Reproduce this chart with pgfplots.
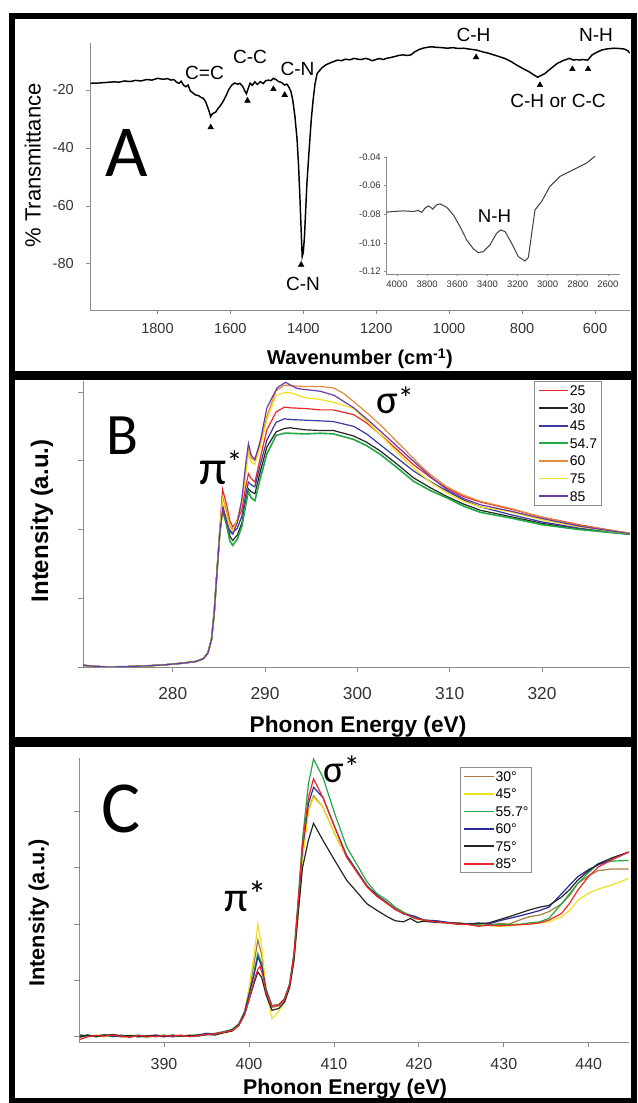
\documentclass[border=0pt]{standalone}
\usepackage{fontspec}
\setmainfont{Liberation Sans}
\newfontfamily\calfont{Carlito}
\usepackage{pgfplots}
\pgfplotsset{compat=1.18}
\newcommand\fs[1]{\fontsize{#1pt}{#1pt}\selectfont}
\definecolor{axgray}{HTML}{8C8C8C}
\definecolor{tkgray}{HTML}{333333}
\definecolor{cRed}{HTML}{EE2828}
\definecolor{cBlack}{HTML}{262626}
\definecolor{cBlue}{HTML}{3A3AA0}
\definecolor{cGreen}{HTML}{22A844}
\definecolor{cOrange}{HTML}{E38A3C}
\definecolor{cYellow}{HTML}{F2E21E}
\definecolor{cPurple}{HTML}{6A3AA8}
\definecolor{cBrown}{HTML}{A87A40}
\definecolor{cNavy}{HTML}{2A2A9A}
\pgfplotsset{
  base/.style={
    scale only axis,
    axis x line=bottom, axis y line=left,
    axis line style={-, draw=axgray, line width=0.7pt},
    every outer x axis line/.append style={-},
    every outer y axis line/.append style={-},
    tick style={draw=axgray, line width=0.6pt},
    tick align=outside,
    major tick length=3pt,
    ticklabel style={text=tkgray, inner sep=0pt},
    /pgf/number format/assume math mode=true,
    /pgf/number format/1000 sep={},
  }
}
\begin{document}
\begin{tikzpicture}
\useasboundingbox (0,0) rectangle (478.5pt,827.25pt);
\fill[white] (0,0) rectangle (478.5pt,827.25pt);

% ---------------- Panel A ----------------
\begin{axis}[base,
  at={(67.5pt,594.75pt)}, anchor=south west,
  width=405pt, height=200.25pt,
  x dir=reverse, xmin=504, xmax=1985, ymin=-95.9, ymax=-3.8,
  xtick={600,800,...,1800}, ytick={-80,-60,-40,-20},
  ticklabel style={font=\fs{10.9}},
  xticklabel style={anchor=center, yshift=-11pt},
  yticklabel style={anchor=east, xshift=-9pt},
]
\addplot[black, line width=1.1pt] coordinates {
(1984,-17.7)(1960,-17.6)(1940,-17.4)(1920,-17.2)(1905,-17.3)(1890,-16.9)(1875,-17.1)
(1860,-16.7)(1845,-16.9)(1830,-16.4)(1815,-16.6)(1800,-16.0)(1785,-16.3)(1772,-16.1)
(1763,-16.6)(1755,-16.4)(1748,-17.3)(1741,-17.7)(1735,-17.0)(1728,-18.4)(1722,-18.9)
(1716,-18.3)(1710,-20.3)(1704,-20.9)(1696,-21.7)(1688,-21.9)(1680,-22.6)(1674,-22.9)
(1668,-24.0)(1663,-25.7)(1658,-27.5)(1654,-29.2)(1650,-28.3)(1646,-28.0)(1640,-27.6)
(1634,-26.4)(1629,-25.7)(1621,-24.2)(1613,-22.3)(1605,-20.0)(1596,-18.3)(1588,-17.6)
(1580,-18.0)(1574,-17.7)(1566,-18.8)(1560,-20.4)(1556,-21.3)(1552,-19.8)(1546,-17.7)
(1540,-18.4)(1533,-17.2)(1526,-18.1)(1518,-17.1)(1510,-17.8)(1503,-16.8)(1496,-16.6)
(1489,-16.8)(1482,-16.0)(1475,-16.4)(1468,-17.1)(1460,-17.4)(1451,-18.3)(1445,-18.0)
(1440,-18.9)(1434,-20.5)(1429,-23.4)(1423,-29.0)(1417,-37.2)(1413,-46.0)(1409,-57.9)
(1406,-68.0)(1403,-77.5)(1400,-76.0)(1397,-71.0)(1394,-63.0)(1390,-52.0)(1384,-40.7)
(1378,-30.0)(1373,-23.4)(1368,-18.0)(1362,-14.3)(1350,-12.5)(1339,-11.4)(1325,-10.6)
(1315,-10.1)(1306,-9.7)(1295,-9.9)(1285,-9.4)(1272,-9.6)(1261,-9.1)(1250,-9.4)(1240,-9.5)
(1230,-9.1)(1220,-9.4)(1212,-9.9)(1205,-9.7)(1196,-9.3)(1190,-9.2)(1180,-9.5)
(1172,-9.1)(1160,-8.8)(1150,-8.5)(1138,-8.1)(1127,-7.9)(1115,-8.1)(1105,-7.9)
(1094,-6.8)(1083,-6.1)(1072,-5.6)(1060,-5.3)(1049,-5.1)(1035,-5.3)(1020,-5.4)
(1005,-5.6)(990,-5.4)(975,-5.7)(960,-5.6)(945,-5.9)(926,-6.2)(910,-6.8)(893,-7.3)
(870,-8.2)(848,-9.1)(830,-10.2)(815,-11.4)(798,-12.6)(781,-13.7)(768,-14.8)(757,-15.6)
(748,-15.0)(737,-14.3)(720,-12.5)(703,-10.8)(686,-9.8)(670,-9.1)(665,-9.4)(659,-9.7)
(650,-9.5)(642,-9.7)(636,-9.5)(628,-9.6)(620,-9.7)(614,-8.8)(608,-7.9)(595,-7.0)
(581,-6.2)(565,-5.8)(547,-5.6)(533,-5.7)(519,-5.9)(510,-6.5)(504,-7.3)};
\addplot[only marks, mark=triangle*, mark size=2.4pt, black] coordinates {
(1654,-32.9)(1553,-23.7)(1482,-19.7)(1451,-21.7)(1406,-80.3)(926,-8.7)(751,-18.3)(662,-12.8)(619,-12.8)};
\end{axis}

% inset
\begin{axis}[base,
  at={(289.5pt,621.75pt)}, anchor=south west,
  width=175.5pt, height=87.75pt,
  x dir=reverse, xmin=2520, xmax=4073, ymin=-0.1216, ymax=-0.04,
  xtick={2600,2800,...,4000}, ytick={-0.12,-0.1,-0.08,-0.06,-0.04},
  major tick length=1.5pt,
  ticklabel style={font=\fs{7.1}},
  xticklabel style={anchor=center, yshift=-6pt},
  yticklabel style={anchor=east, xshift=-2.25pt, /pgf/number format/.cd, fixed, fixed zerofill, precision=2},
]
\addplot[black!75, line width=0.75pt] coordinates {
(4073,-0.0785)(4024,-0.0780)(3958,-0.0776)(3892,-0.0780)(3858,-0.0773)(3836,-0.0787)
(3814,-0.0757)(3792,-0.0741)(3777,-0.0750)(3763,-0.0764)(3741,-0.0736)(3715,-0.0727)
(3670,-0.0750)(3626,-0.0804)(3582,-0.0885)(3538,-0.0978)(3493,-0.1041)(3460,-0.1067)
(3427,-0.1060)(3383,-0.1013)(3339,-0.0932)(3312,-0.0909)(3283,-0.0920)(3239,-0.1002)
(3195,-0.1095)(3151,-0.1125)(3128,-0.1100)(3106,-0.0932)(3084,-0.0769)(3040,-0.0710)
(2985,-0.0605)(2918,-0.0535)(2830,-0.0489)(2741,-0.0442)(2686,-0.0395)};
\end{axis}

% ---------------- Panel B ----------------
\begin{axis}[base,
  at={(62.25pt,327pt)}, anchor=south west,
  width=410.25pt, height=214.5pt,
  xmin=270.28, xmax=329.53, ymin=0, ymax=4.16,
  xtick={280,290,...,320}, ytick={0,1,2,3,4}, yticklabels={,,,,},
  major tick length=3.75pt,
  ticklabel style={font=\fs{13}},
  xticklabel style={anchor=center, yshift=-16.5pt},
  legend style={at={(rel axis cs:0.8245,1)}, anchor=north west, draw=axgray, line width=0.6pt,
    fill=white, font=\fs{10.5}, inner xsep=3pt, inner ysep=2.5pt, row sep=4.6pt,
    nodes={inner sep=0.5pt, text height=7.6pt, text depth=0pt}},
  legend cell align=left,
  legend image code/.code={\draw[#1, line width=1.3pt] (0pt,0pt) -- (21.75pt,0pt);},
]
\addplot[cRed, line width=0.9pt] coordinates {
(270.3,0.025)(271.5,0.01)(273,0.0)(275,0.005)(277,0.015)(279,0.03)(281,0.055)(282.5,0.08)(283.3,0.12)(283.8,0.2)(284.2,0.4)(284.5,0.8)(284.8,1.4)(285.1,2.0)
(285.4,2.58)(285.8,2.38)(286.2,2.12)(286.5,2.04)(287.0,2.12)(287.5,2.3)(287.9,2.62)(288.2,2.81)(288.5,2.74)(288.9,2.69)(289.5,3.05)(290.2,3.45)(291.2,3.71)(292.1,3.78)(292.7,3.77)(294.3,3.76)(296,3.74)(297.4,3.74)(299.6,3.67)(301,3.55)(302.5,3.38)(304.3,3.16)(306.1,2.94)(308,2.75)(309.7,2.60)(311.5,2.48)(313.3,2.40)(316.5,2.30)(320,2.18)(324,2.07)(329.5,1.94)};
\addlegendentry{25}
\addplot[cBlack, line width=0.9pt] coordinates {
(270.3,0.025)(271.5,0.01)(273,0.0)(275,0.005)(277,0.015)(279,0.03)(281,0.055)(282.5,0.08)(283.3,0.12)(283.8,0.2)(284.2,0.4)(284.5,0.8)(284.8,1.4)(285.1,1.95)
(285.4,2.30)(285.8,2.12)(286.2,1.9)(286.5,1.84)(287.0,1.92)(287.5,2.1)(287.9,2.4)(288.2,2.59)(288.5,2.55)(288.9,2.52)(289.5,2.85)(290.2,3.2)(291.2,3.42)(292.1,3.47)(292.7,3.48)(294.3,3.45)(296,3.44)(297.4,3.44)(299.6,3.36)(301,3.27)(302.5,3.14)(304.3,2.95)(306.1,2.75)(308,2.60)(309.7,2.48)(311.5,2.37)(313.3,2.28)(316.5,2.19)(320,2.09)(324,2.01)(329.5,1.93)};
\addlegendentry{30}
\addplot[cBlue, line width=0.9pt] coordinates {
(270.3,0.025)(271.5,0.01)(273,0.0)(275,0.005)(277,0.015)(279,0.03)(281,0.055)(282.5,0.08)(283.3,0.12)(283.8,0.2)(284.2,0.4)(284.5,0.8)(284.8,1.4)(285.1,1.97)
(285.4,2.35)(285.8,2.18)(286.2,1.99)(286.5,1.95)(287.0,2.02)(287.5,2.2)(287.9,2.5)(288.2,2.69)(288.5,2.65)(288.9,2.62)(289.5,2.95)(290.2,3.3)(291.2,3.56)(292.1,3.61)(292.7,3.60)(294.3,3.59)(296,3.58)(297.4,3.57)(299.6,3.50)(301,3.39)(302.5,3.23)(304.3,3.04)(306.1,2.85)(308,2.69)(309.7,2.56)(311.5,2.43)(313.3,2.33)(316.5,2.22)(320,2.11)(324,2.02)(329.5,1.93)};
\addlegendentry{45}
\addplot[cGreen, line width=1.2pt] coordinates {
(270.3,0.025)(271.5,0.01)(273,0.0)(275,0.005)(277,0.015)(279,0.03)(281,0.055)(282.5,0.08)(283.3,0.12)(283.8,0.2)(284.2,0.4)(284.5,0.8)(284.8,1.4)(285.1,1.95)
(285.4,2.28)(285.8,2.08)(286.2,1.83)(286.5,1.77)(287.0,1.86)(287.5,2.05)(287.9,2.35)(288.2,2.55)(288.5,2.46)(288.9,2.42)(289.5,2.75)(290.2,3.1)(291.2,3.37)(292.1,3.40)(292.7,3.40)(294.3,3.39)(296,3.40)(297.4,3.39)(299.6,3.31)(301,3.22)(302.5,3.09)(304.3,2.90)(306.1,2.70)(308,2.56)(309.7,2.46)(311.5,2.34)(313.3,2.25)(316.5,2.17)(320,2.07)(324,2.00)(329.5,1.93)};
\addlegendentry{54.7}
\addplot[cOrange, line width=0.9pt] coordinates {
(270.3,0.025)(271.5,0.01)(273,0.0)(275,0.005)(277,0.015)(279,0.03)(281,0.055)(282.5,0.08)(283.3,0.12)(283.8,0.2)(284.2,0.4)(284.5,0.8)(284.8,1.4)(285.1,1.98)
(285.4,2.47)(285.8,2.28)(286.2,2.05)(286.5,2.0)(287.0,2.15)(287.5,2.42)(287.9,2.85)(288.2,3.15)(288.5,3.04)(288.9,3.0)(289.5,3.25)(290.2,3.65)(291.2,4.02)(292.1,4.10)(292.7,4.09)(294.3,4.08)(296,4.08)(297.4,4.06)(298.5,3.98)(299.6,3.86)(301,3.70)(302.5,3.52)(303.9,3.33)(305.3,3.14)(306.6,2.96)(307.9,2.80)(309.7,2.62)(311.5,2.50)(313.3,2.41)(316.5,2.31)(320,2.18)(324,2.06)(329.5,1.95)};
\addlegendentry{60}
\addplot[cYellow, line width=0.9pt] coordinates {
(270.3,0.025)(271.5,0.01)(273,0.0)(275,0.005)(277,0.015)(279,0.03)(281,0.055)(282.5,0.08)(283.3,0.12)(283.8,0.2)(284.2,0.4)(284.5,0.8)(284.8,1.4)(285.1,1.97)
(285.4,2.42)(285.8,2.22)(286.2,2.02)(286.5,1.98)(287.0,2.12)(287.5,2.4)(287.9,2.8)(288.2,3.1)(288.5,2.98)(288.9,2.95)(289.5,3.2)(290.2,3.6)(291.2,3.95)(292.1,3.99)(292.7,3.99)(294.3,3.92)(296,3.89)(297.4,3.85)(299.6,3.76)(301,3.58)(302.5,3.38)(304.3,3.12)(306.1,2.89)(308,2.68)(309.7,2.53)(311.5,2.41)(313.3,2.33)(316.5,2.26)(320,2.14)(324,2.04)(329.5,1.94)};
\addlegendentry{75}
\addplot[cPurple, line width=0.9pt] coordinates {
(270.3,0.025)(271.5,0.01)(273,0.0)(275,0.005)(277,0.015)(279,0.03)(281,0.055)(282.5,0.08)(283.3,0.12)(283.8,0.2)(284.2,0.4)(284.5,0.8)(284.8,1.4)(285.1,1.95)
(285.4,2.30)(285.8,2.1)(286.2,1.96)(286.5,1.93)(287.0,2.1)(287.5,2.45)(287.9,2.95)(288.2,3.25)(288.5,3.08)(288.9,3.02)(289.5,3.3)(290.2,3.77)(291.3,4.06)(292.2,4.14)(293.5,4.05)(296,4.01)(297.5,3.95)(299.6,3.77)(301,3.61)(302.5,3.43)(304.3,3.21)(306.1,2.99)(308,2.76)(309.7,2.58)(311.5,2.45)(313.3,2.36)(316.5,2.27)(320,2.16)(324,2.05)(329.5,1.94)};
\addlegendentry{85}
\end{axis}

% ---------------- Panel C ----------------
\begin{axis}[base,
  at={(59.5pt,45.75pt)}, anchor=south west,
  width=412pt, height=213pt,
  xmin=380.03, xmax=444.7, ymin=-0.094, ymax=4.95,
  xtick={390,400,...,440}, ytick={0,1,2,3,4}, yticklabels={,,,,},
  major tick length=3.75pt,
  ticklabel style={font=\fs{12}},
  xticklabel style={anchor=center, yshift=-12.75pt},
  legend style={at={(rel axis cs:0.6931,0.9683)}, anchor=north west, draw=axgray, line width=0.6pt,
    fill=white, font=\fs{10.5}, inner xsep=2pt, inner ysep=2.5pt, row sep=4.5pt,
    nodes={inner sep=0.5pt, text height=7.6pt, text depth=0pt}},
  legend cell align=left,
  legend image code/.code={\draw[#1, line width=1.3pt] (0pt,0pt) -- (22.5pt,0pt);},
]
\addplot[cBrown, line width=0.9pt] coordinates {
(380.1,-0.02)(381,0.03)(382,0.0)(383,0.04)(384,0.02)(385,0.03)(386,0.0)(387,0.01)(388,-0.01)(389,0.02)(390,0.0)(391,0.02)(392,0.01)(393,0.03)(394,0.02)(395,0.05)(396,0.04)(397,0.08)(398,0.12)(398.8,0.22)(399.5,0.45)(400.1,0.9)
(400.6,1.3)(401.05,1.72)(401.5,1.45)(402.0,0.85)(402.7,0.52)(403.5,0.55)(404.2,0.66)(404.8,0.92)(405.3,1.4)(405.8,2.25)(406.3,3.2)(407.0,4.02)(407.6,4.28)(408.7,4.08)(410.1,3.6)(411.5,3.19)(413.9,2.66)(415,2.52)(416.3,2.38)(417.2,2.26)(418.2,2.19)(419.5,2.13)(420.6,2.07)(422,2.06)(423.5,2.02)(424.6,2.03)(425.8,2.0)(427,1.99)(428.2,1.98)(429.5,2.01)(430.6,2.0)(432,2.08)(433,2.13)(434.2,2.16)(435.3,2.22)(436.8,2.36)(437.8,2.52)(438.7,2.72)(440,2.86)(441.1,2.95)(442.8,2.98)(444.7,2.98)};
\addlegendentry{30°}
\addplot[cYellow, line width=0.9pt] coordinates {
(380.1,0.02)(381,0.01)(382,0.03)(383,0.0)(384,0.02)(385,0.01)(386,0.03)(387,0.0)(388,0.02)(389,0.0)(390,0.02)(391,0.01)(392,0.0)(393,0.02)(394,0.03)(395,0.04)(396,0.06)(397,0.07)(398,0.1)(398.8,0.2)(399.5,0.42)(400.1,0.95)
(400.6,1.45)(401.05,2.0)(401.5,1.6)(402.0,0.85)(402.7,0.32)(403.5,0.45)(404.2,0.62)(404.8,0.9)(405.3,1.38)(405.8,2.2)(406.3,3.15)(407.0,4.0)(407.6,4.25)(408.7,4.08)(410.1,3.6)(411.5,3.19)(413.9,2.66)(415,2.5)(416.3,2.36)(417.2,2.28)(418.2,2.2)(419.5,2.1)(420.6,2.06)(422,2.04)(423.5,2.02)(424.6,1.99)(425.8,2.0)(427,2.01)(428.2,1.97)(429.5,1.96)(430.6,1.97)(432,1.99)(433,2.0)(434.2,2.02)(435.3,2.04)(436.8,2.13)(437.8,2.25)(438.7,2.42)(440,2.55)(441.1,2.62)(442.8,2.7)(444.7,2.81)};
\addlegendentry{45°}
\addplot[cGreen, line width=0.9pt] coordinates {
(380.1,0.04)(381,0.0)(382,0.02)(383,0.03)(384,0.0)(385,0.02)(386,0.01)(387,0.03)(388,0.0)(389,0.01)(390,0.03)(391,0.0)(392,0.02)(393,0.01)(394,0.04)(395,0.03)(396,0.06)(397,0.09)(398,0.13)(398.8,0.23)(399.5,0.45)(400.1,0.82)
(400.6,1.15)(401.05,1.48)(401.5,1.3)(402.0,0.85)(402.7,0.55)(403.5,0.57)(404.2,0.68)(404.8,0.95)(405.3,1.5)(405.8,2.45)(406.3,3.5)(407.0,4.49)(407.6,4.93)(408.7,4.61)(410.1,3.96)(411.5,3.37)(413.9,2.75)(415,2.55)(416.3,2.42)(417.2,2.3)(418.2,2.21)(419.5,2.12)(420.6,2.07)(422,2.05)(423.5,2.02)(424.6,2.01)(425.8,2.0)(427,1.98)(428.2,1.98)(429.5,2.0)(430.6,1.99)(432,2.0)(433,2.02)(434.2,2.04)(435.3,2.1)(436.8,2.36)(437.8,2.55)(438.7,2.72)(440,2.92)(441.1,3.07)(442.8,3.12)(444.7,3.13)};
\addlegendentry{55.7°}
\addplot[cNavy, line width=0.9pt] coordinates {
(380.1,0.0)(381,0.02)(382,0.01)(383,0.03)(384,0.01)(385,0.0)(386,0.02)(387,0.0)(388,0.01)(389,0.03)(390,0.01)(391,0.0)(392,0.02)(393,0.01)(394,0.03)(395,0.06)(396,0.05)(397,0.08)(398,0.12)(398.8,0.21)(399.5,0.44)(400.1,0.8)
(400.6,1.1)(401.05,1.42)(401.5,1.25)(402.0,0.83)(402.7,0.55)(403.5,0.56)(404.2,0.67)(404.8,0.93)(405.3,1.45)(405.8,2.35)(406.3,3.35)(407.0,4.14)(407.6,4.43)(408.7,4.25)(410.1,3.72)(411.5,3.22)(413.9,2.68)(415,2.52)(416.3,2.37)(417.2,2.27)(418.2,2.18)(419.5,2.14)(420.6,2.07)(422,2.06)(423.5,2.03)(424.6,2.01)(425.8,2.0)(427,2.02)(428.2,2.0)(429.5,2.06)(430.6,2.1)(432,2.15)(433,2.19)(434.2,2.24)(435.3,2.3)(436.8,2.54)(437.8,2.7)(438.7,2.84)(440,2.97)(441.1,3.05)(442.8,3.15)(444.7,3.28)};
\addlegendentry{60°}
\addplot[cBlack, line width=0.9pt] coordinates {
(380.1,0.01)(381,0.03)(382,0.0)(383,0.02)(384,0.04)(385,0.01)(386,0.02)(387,0.0)(388,0.02)(389,0.01)(390,0.0)(391,0.03)(392,0.01)(393,0.02)(394,0.01)(395,0.04)(396,0.03)(397,0.07)(398,0.1)(398.8,0.2)(399.5,0.4)(400.1,0.7)
(400.6,0.95)(401.05,1.15)(401.5,1.05)(402.0,0.75)(402.7,0.47)(403.5,0.5)(404.2,0.62)(404.8,0.88)(405.3,1.35)(405.8,2.2)(406.3,3.0)(407.0,3.49)(407.6,3.79)(408.7,3.49)(410.1,3.13)(411.5,2.78)(413.9,2.36)(415,2.25)(416.3,2.13)(417.2,2.06)(418.2,2.04)(419,2.1)(419.8,2.03)(420.6,2.05)(422,2.03)(423.5,2.02)(424.6,2.0)(425.8,2.0)(427,2.01)(428.2,2.02)(429.5,2.08)(430.6,2.13)(432,2.2)(433,2.25)(434.2,2.3)(435.3,2.33)(436.8,2.48)(437.8,2.62)(438.7,2.78)(440,2.95)(441.1,3.07)(442.8,3.18)(444.7,3.28)};
\addlegendentry{75°}
\addplot[cRed, line width=0.9pt] coordinates {
(380.1,-0.05)(381,0.0)(382,0.02)(383,0.01)(384,0.03)(385,0.0)(386,-0.01)(387,0.02)(388,0.01)(389,0.0)(390,0.02)(391,0.01)(392,0.03)(393,0.0)(394,0.02)(395,0.04)(396,0.05)(397,0.08)(398,0.11)(398.8,0.2)(399.5,0.4)(400.1,0.72)
(400.6,1.0)(401.05,1.2)(401.3,1.25)(401.7,1.05)(402.0,0.8)(402.7,0.55)(403.5,0.56)(404.2,0.67)(404.8,0.93)(405.3,1.45)(405.8,2.4)(406.3,3.4)(407.0,4.25)(407.6,4.58)(408.7,4.25)(410.1,3.72)(411.5,3.19)(413.9,2.66)(415,2.5)(416.3,2.36)(417.2,2.26)(418.2,2.19)(419.5,2.1)(420.6,2.07)(422,2.04)(423.5,2.02)(424.6,2.0)(425.8,1.99)(427,1.96)(428.2,1.98)(429.5,1.97)(430.6,1.98)(432,1.99)(433,2.0)(434.2,2.02)(435.3,2.07)(436.8,2.19)(437.8,2.38)(438.7,2.6)(440,2.85)(441.1,3.01)(442.8,3.15)(444.7,3.28)};
\addlegendentry{85°}
\end{axis}

% ---------------- texts and frames (pixel coordinates) ----------------
\begin{scope}[x=0.75pt,y=-0.75pt,yshift=827.25pt]
\draw[line width=4.5pt] (11.5,16.5) rectangle (634,374.5);
\draw[line width=4.5pt] (11.5,377.5) rectangle (634,740);
\draw[line width=4.5pt] (11.5,744) rectangle (634,1101);
% A
\node[rotate=90, anchor=base, font=\fs{16.5}] at (40.7,165.5) {\% Transmittance};
\node[anchor=base, font=\fs{15}\bfseries] at (360,365) {Wavenumber (cm\textsuperscript{-1})};
\node[inner sep=0pt, font=\calfont\fs{55}] at (126.5,153.3) {A};
\node[inner sep=0pt, font=\fs{14.3}] at (204.5,73.3) {C=C};
\node[inner sep=0pt, font=\fs{14.3}] at (250,56.7) {C-C};
\node[inner sep=0pt, font=\fs{14.3}] at (297.5,69) {C-N};
\node[inner sep=0pt, font=\fs{14.3}] at (303,284) {C-N};
\node[inner sep=0pt, font=\fs{14.3}] at (473.5,35) {C-H};
\node[inner sep=0pt, font=\fs{14.3}] at (558,100.8) {C-H or C-C};
\node[inner sep=0pt, font=\fs{14.3}] at (596,35) {N-H};
\node[inner sep=0pt, font=\fs{14}] at (494.5,216) {N-H};
% B
\node[rotate=90, anchor=base, font=\fs{18}\bfseries] at (48,521) {Intensity (a.u.)};
\node[anchor=base, font=\fs{17}\bfseries] at (358,733) {Phonon Energy (eV)};
\node[inner sep=0pt, font=\calfont\fs{44}] at (122.5,436) {B};
\node[inner sep=0pt, anchor=base west, font=\calfont\fs{37}] at (199,485) {π\raisebox{8.5pt}{\fs{24}*}};
\node[inner sep=0pt, anchor=base west, font=\calfont\fs{30.6}] at (376,414) {σ\raisebox{3pt}{\fs{24}*}};
% C
\node[rotate=90, anchor=base, font=\fs{16.3}\bfseries] at (44.3,913) {Intensity (a.u.)};
\node[anchor=base, font=\fs{16}\bfseries] at (345,1095) {Phonon Energy (eV)};
\node[inner sep=0pt, font=\calfont\fs{55}] at (121,808.5) {C};
\node[inner sep=0pt, anchor=base west, font=\calfont\fs{32}] at (224,912) {π\raisebox{3pt}{\fs{28}*}};
\node[inner sep=0pt, anchor=base west, font=\calfont\fs{29}] at (323,783) {σ\raisebox{3.5pt}{\fs{24}*}};
\end{scope}
\end{tikzpicture}
\end{document}
